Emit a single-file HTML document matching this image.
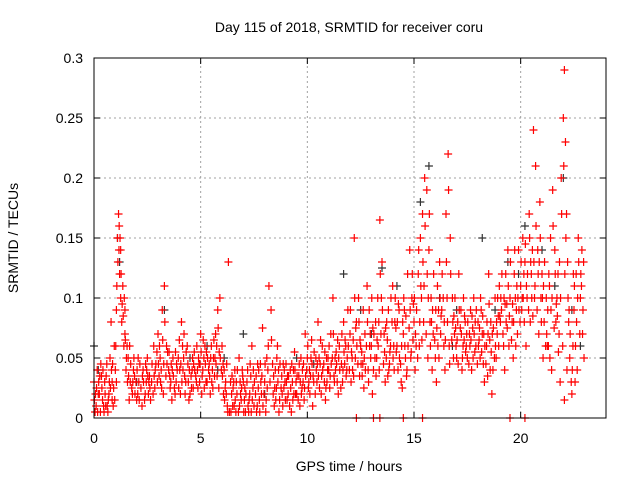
<!DOCTYPE html>
<html><head><meta charset="utf-8"><style>
body{margin:0;background:#fff;}
svg{display:block;font-family:"Liberation Sans",sans-serif;}
</style></head><body>
<svg id="chart" width="640" height="480">
<text x="349" y="32" font-size="14" text-anchor="middle">Day 115 of 2018, SRMTID for receiver coru</text>
<text x="349" y="471" font-size="14" text-anchor="middle">GPS time / hours</text>
<text transform="translate(18,238) rotate(-90)" font-size="14" text-anchor="middle">SRMTID / TECUs</text>
<g id="grid"></g><g id="marks"></g><g id="axes"></g>
</svg>
<script>
const xTicks=[0,5,10,15,20];
const yTicks=[0,0.05,0.1,0.15,0.2,0.25,0.3];
const yTickLabels=["0","0.05","0.1","0.15","0.2","0.25","0.3"];
const redPoints=[[0,0.03],[0.1,0.01],[0.15,0.04],[0.2,0.02],[0.3,0.005],[0.35,0.035],[0.4,0.015],[0.5,0.03],[0.55,0.01],[0.6,0.045],[0.7,0.02],[0.75,0.05],[0.8,0.08],[0.85,0.03],[0.9,0.01],[0.95,0.06],[1,0.04],[1.05,0.09],[1.1,0.15],[1.15,0.17],[1.2,0.12],[1.25,0.1],[1.3,0.08],[1.35,0.11],[1.4,0.06],[1.45,0.07],[1.5,0.04],[1.6,0.05],[1.7,0.03],[1.8,0.02],[1.9,0.035],[2,0.015],[2.1,0.03],[2.2,0.025],[2.3,0.04],[2.4,0.02],[2.5,0.05],[2.6,0.035],[2.7,0.03],[2.8,0.06],[2.9,0.045],[3,0.07],[3.1,0.05],[3.2,0.09],[3.3,0.11],[3.4,0.06],[3.5,0.04],[3.6,0.03],[3.7,0.05],[3.8,0.02],[3.9,0.04],[4,0.065],[4.1,0.08],[4.2,0.05],[4.3,0.03],[4.4,0.045],[4.5,0.02],[4.6,0.04],[4.7,0.055],[4.8,0.03],[4.9,0.05],[5,0.07],[5.1,0.04],[5.2,0.06],[5.3,0.03],[5.4,0.045],[5.5,0.06],[5.6,0.05],[5.7,0.07],[5.8,0.09],[5.9,0.1],[6,0.06],[6.1,0.04],[6.2,0.02],[6.3,0.13],[6.35,0.005],[6.4,0.03],[6.5,0.01],[6.6,0.04],[6.7,0.02],[6.8,0.05],[6.9,0.015],[7,0.03],[7.1,0.005],[7.2,0.04],[7.3,0.02],[7.4,0.06],[7.5,0.01],[7.6,0.035],[7.7,0.025],[7.8,0.045],[7.9,0.075],[8,0.03],[8.1,0.05],[8.2,0.11],[8.3,0.09],[8.4,0.02],[8.5,0.04],[8.6,0.06],[8.7,0.015],[8.8,0.035],[8.9,0.025],[9,0.045],[9.1,0.02],[9.2,0.04],[9.3,0.03],[9.4,0.055],[9.5,0.02],[9.6,0.035],[9.7,0.05],[9.8,0.03],[9.9,0.07],[10,0.05],[10.1,0.04],[10.2,0.065],[10.3,0.03],[10.4,0.05],[10.5,0.08],[10.6,0.045],[10.7,0.06],[10.8,0.03],[10.9,0.05],[11,0.04],[11.1,0.07],[11.2,0.1],[11.3,0.05],[11.4,0.03],[11.5,0.06],[11.6,0.045],[11.7,0.08],[11.8,0.06],[11.9,0.09],[12,0.07],[12.1,0.05],[12.2,0.15],[12.3,0.08],[12.4,0.1],[12.5,0.06],[12.6,0.045],[12.7,0.07],[12.8,0.11],[12.9,0.09],[13,0.06],[13.1,0.04],[13.2,0.08],[13.3,0.1],[13.4,0.165],[13.5,0.13],[13.6,0.07],[13.7,0.05],[13.8,0.09],[13.9,0.06],[14,0.11],[14.1,0.08],[14.2,0.06],[14.3,0.09],[14.4,0.03],[14.5,0.07],[14.6,0.05],[14.7,0.12],[14.8,0.14],[14.9,0.1],[15,0.08],[15.1,0.06],[15.2,0.12],[15.3,0.15],[15.4,0.17],[15.5,0.2],[15.6,0.19],[15.7,0.14],[15.8,0.1],[15.9,0.07],[16,0.05],[16.1,0.11],[16.2,0.13],[16.3,0.09],[16.4,0.06],[16.5,0.17],[16.6,0.22],[16.7,0.15],[16.8,0.1],[16.9,0.07],[17,0.05],[17.1,0.12],[17.2,0.09],[17.3,0.06],[17.4,0.08],[17.5,0.05],[17.6,0.07],[17.7,0.04],[17.8,0.1],[17.9,0.06],[18,0.08],[18.1,0.05],[18.2,0.07],[18.3,0.03],[18.4,0.06],[18.5,0.12],[18.6,0.08],[18.7,0.04],[18.8,0.1],[18.9,0.07],[19,0.11],[19.1,0.09],[19.2,0.06],[19.3,0.12],[19.4,0.14],[19.5,0.1],[19.6,0.08],[19.7,0.12],[19.8,0.09],[19.9,0.14],[20,0.11],[20.1,0.15],[20.2,0.13],[20.3,0.1],[20.4,0.17],[20.5,0.12],[20.6,0.24],[20.7,0.21],[20.8,0.14],[20.9,0.18],[21,0.12],[21.1,0.08],[21.2,0.1],[21.3,0.06],[21.4,0.15],[21.5,0.19],[21.6,0.14],[21.7,0.1],[21.8,0.07],[21.9,0.2],[22,0.25],[22.05,0.29],[22.1,0.23],[22.2,0.13],[22.3,0.05],[22.4,0.02],[22.5,0.09],[22.6,0.12],[22.7,0.15],[22.8,0.1],[22.9,0.07],[12.3,0],[13.1,0],[13.4,0],[14.5,0],[15.4,0],[19.5,0],[20.2,0]];
const redLowPoints=[[0.05,0.005],[0.25,0.02],[0.45,0.01],[0.65,0.005],[0.85,0.015],[1.05,0.03],[1.25,0.14],[1.45,0.09],[1.65,0.015],[1.85,0.04],[2.05,0.02],[2.25,0.01],[2.45,0.03],[2.65,0.015],[2.85,0.025],[3.05,0.035],[3.25,0.02],[3.45,0.055],[3.65,0.015],[3.85,0.03],[4.05,0.02],[4.25,0.035],[4.45,0.015],[4.65,0.025],[4.85,0.04],[5.05,0.02],[5.25,0.03],[5.45,0.02],[5.65,0.035],[5.85,0.025],[6.05,0.045],[6.25,0.01],[6.45,0.02],[6.65,0.005],[6.85,0.03],[7.05,0.015],[7.25,0.005],[7.45,0.025],[7.65,0.01],[7.85,0.02],[8.05,0.005],[8.25,0.03],[8.45,0.01],[8.65,0.04],[8.85,0.01],[9.05,0.015],[9.25,0.005],[9.45,0.02],[9.65,0.01],[9.85,0.015],[10.05,0.025],[10.25,0.01],[10.45,0.03],[10.65,0.02],[10.85,0.015],[11.05,0.025],[11.25,0.035],[11.45,0.02],[11.65,0.03],[11.85,0.04],[12.05,0.03],[12.25,0.05],[12.45,0.035],[12.65,0.025],[12.85,0.04],[13.05,0.02],[13.25,0.05],[13.45,0.07],[13.65,0.03],[13.85,0.045],[14.05,0.06],[14.25,0.04],[14.45,0.025],[14.65,0.035],[14.85,0.05],[15.05,0.04],[15.25,0.06],[15.45,0.08],[15.65,0.05],[15.85,0.04],[16.05,0.03],[16.25,0.07],[16.45,0.04],[16.65,0.06],[16.85,0.05],[17.05,0.08],[17.25,0.04],[17.45,0.06],[17.65,0.09],[17.85,0.055],[18.05,0.065],[18.25,0.045],[18.45,0.035],[18.65,0.02],[18.85,0.05],[19.05,0.08],[19.25,0.04],[19.45,0.06],[19.65,0.05],[19.85,0.07],[20.05,0.09],[20.25,0.06],[20.45,0.08],[20.65,0.1],[20.85,0.07],[21.05,0.05],[21.25,0.06],[21.45,0.04],[21.65,0.08],[21.85,0.03],[22.05,0.015],[22.25,0.08],[22.45,0.06],[22.65,0.04],[22.85,0.11]];
const redMidPoints=[[0.12,0.025],[0.42,0.04],[0.72,0.03],[1.18,0.16],[1.32,0.095],[1.55,0.06],[2.15,0.045],[2.55,0.02],[2.95,0.055],[3.15,0.04],[3.55,0.035],[3.95,0.05],[4.15,0.06],[4.55,0.035],[4.95,0.03],[5.15,0.05],[5.55,0.04],[5.75,0.06],[6.15,0.025],[6.55,0.03],[6.95,0.04],[7.35,0.035],[7.75,0.015],[8.15,0.04],[8.55,0.025],[8.95,0.03],[9.35,0.04],[9.75,0.025],[10.15,0.035],[10.55,0.05],[10.95,0.04],[11.35,0.055],[11.75,0.045],[12.15,0.065],[12.55,0.055],[12.95,0.07],[13.35,0.08],[13.75,0.065],[14.15,0.075],[14.55,0.09],[14.95,0.065],[15.35,0.1],[15.75,0.08],[16.15,0.09],[16.55,0.1],[16.95,0.075],[17.35,0.065],[17.75,0.075],[18.15,0.09],[18.55,0.065],[18.95,0.085],[19.35,0.095],[19.75,0.1],[20.15,0.12],[20.55,0.14],[20.95,0.1],[21.35,0.11],[21.75,0.12],[22.15,0.17],[22.55,0.03],[22.95,0.13]];
const redExtraA=[[0.02,0.015],[0.22,0.03],[0.32,0.045],[0.52,0.02],[0.62,0.01],[0.82,0.04],[0.92,0.025],[1.02,0.06],[1.12,0.13],[1.22,0.15],[1.42,0.1],[1.52,0.05],[1.62,0.035],[1.72,0.045],[1.82,0.03],[1.92,0.02],[2.02,0.04],[2.12,0.015],[2.32,0.03],[2.42,0.045],[2.52,0.035],[2.62,0.025],[2.72,0.045],[2.82,0.035],[3.02,0.045],[3.12,0.03],[3.22,0.065],[3.32,0.08],[3.42,0.045],[3.52,0.055],[3.62,0.045],[3.72,0.035],[3.82,0.055],[4.02,0.04],[4.12,0.03],[4.22,0.07],[4.32,0.055],[4.42,0.03],[4.62,0.05],[4.72,0.04],[4.82,0.06],[4.92,0.045],[5.02,0.055],[5.12,0.065],[5.22,0.045],[5.32,0.05],[5.42,0.035],[5.52,0.03],[5.62,0.065],[5.72,0.045],[5.82,0.075],[5.92,0.05],[6.02,0.035],[6.12,0.015],[6.22,0.045],[6.42,0.005],[6.52,0.025],[6.62,0.015],[6.72,0.04],[6.82,0.01],[6.92,0.025],[7.02,0.005],[7.12,0.02],[7.22,0.01],[7.32,0.045],[7.42,0.015],[7.52,0.03],[7.62,0.005],[7.72,0.04],[7.82,0.03],[7.92,0.01],[8.02,0.045],[8.12,0.025],[8.32,0.065],[8.42,0.035],[8.52,0.015],[8.62,0.03],[8.72,0.045],[8.82,0.02],[8.92,0.04],[9.02,0.03],[9.12,0.035],[9.22,0.025],[9.32,0.015],[9.42,0.04],[9.52,0.035],[9.62,0.045],[9.72,0.02],[9.82,0.045],[9.92,0.035],[10.02,0.06],[10.12,0.02],[10.22,0.045],[10.32,0.055],[10.42,0.04],[10.52,0.035],[10.62,0.065],[10.72,0.04],[10.82,0.055],[10.92,0.03],[11.02,0.06],[11.12,0.045],[11.22,0.07],[11.32,0.04],[11.42,0.065],[11.52,0.04],[11.62,0.07],[11.72,0.055],[11.82,0.035],[11.92,0.06],[12.02,0.09],[12.12,0.04],[12.22,0.1],[12.32,0.06],[12.42,0.08],[12.52,0.045],[12.62,0.09],[12.72,0.04],[12.82,0.08],[12.92,0.06],[13.02,0.1],[13.12,0.07],[13.22,0.035],[13.32,0.06],[13.42,0.12],[13.52,0.09],[13.62,0.055],[13.72,0.08],[13.82,0.04],[13.92,0.1],[14.02,0.05],[14.12,0.1],[14.22,0.08],[14.32,0.05],[14.42,0.06],[14.52,0.1],[14.62,0.085],[14.72,0.06],[14.82,0.09],[14.92,0.12],[15.02,0.1],[15.12,0.09],[15.22,0.14],[15.32,0.11],[15.42,0.13],[15.52,0.16],[15.62,0.12],[15.72,0.17],[15.82,0.08],[15.92,0.12],[16.02,0.09],[16.12,0.06],[16.22,0.1],[16.32,0.12],[16.42,0.08],[16.52,0.13],[16.62,0.19],[16.72,0.12],[16.82,0.08],[16.92,0.1],[17.02,0.065],[17.12,0.09],[17.22,0.07],[17.32,0.1],[17.42,0.055],[17.52,0.08],[17.62,0.06],[17.72,0.085],[17.82,0.07],[17.92,0.09],[18.02,0.06],[18.12,0.1],[18.22,0.085],[18.32,0.06],[18.42,0.08],[18.52,0.095],[18.62,0.055],[18.72,0.075],[18.82,0.06],[18.92,0.1],[19.02,0.085],[19.12,0.12],[19.22,0.1],[19.32,0.08],[19.42,0.11],[19.52,0.13],[19.62,0.095],[19.72,0.14],[19.82,0.11],[19.92,0.09],[20.02,0.13],[20.12,0.1],[20.22,0.145],[20.32,0.12],[20.42,0.15],[20.52,0.1],[20.62,0.13],[20.72,0.16],[20.82,0.12],[20.92,0.15],[21.02,0.1],[21.12,0.13],[21.22,0.07],[21.32,0.12],[21.42,0.09],[21.52,0.16],[21.62,0.12],[21.72,0.085],[21.82,0.13],[21.92,0.17],[22.02,0.21],[22.12,0.15],[22.22,0.1],[22.32,0.07],[22.42,0.04],[22.52,0.11],[22.62,0.08],[22.72,0.13],[22.82,0.12],[22.92,0.09]];
const redExtraB=[[0.07,0.02],[0.17,0.005],[0.27,0.035],[0.37,0.025],[0.47,0.005],[0.57,0.035],[0.67,0.015],[0.77,0.025],[0.87,0.045],[0.97,0.015],[1.07,0.11],[1.17,0.14],[1.27,0.12],[1.37,0.085],[1.47,0.065],[1.57,0.03],[1.67,0.06],[1.77,0.025],[1.87,0.05],[1.97,0.03],[2.07,0.05],[2.27,0.035],[2.37,0.015],[2.47,0.04],[2.57,0.03],[2.77,0.02],[2.87,0.04],[2.97,0.03],[3.07,0.06],[3.17,0.025],[3.27,0.045],[3.37,0.035],[3.57,0.025],[3.67,0.04],[3.77,0.025],[3.87,0.045],[3.97,0.025],[4.07,0.045],[4.17,0.04],[4.27,0.02],[4.37,0.06],[4.47,0.04],[4.57,0.025],[4.67,0.045],[4.77,0.035],[4.87,0.025],[4.97,0.045],[5.07,0.035],[5.17,0.025],[5.27,0.055],[5.37,0.04],[5.47,0.05],[5.57,0.025],[5.67,0.05],[5.77,0.035],[5.87,0.055],[5.97,0.04],[6.07,0.02],[6.17,0.03],[6.27,0.005],[6.47,0.035],[6.57,0.01],[6.67,0.03],[6.77,0.005],[6.87,0.02],[6.97,0.035],[7.07,0.025],[7.17,0.03],[7.27,0.015],[7.37,0.005],[7.47,0.04],[7.57,0.02],[7.67,0.045],[7.77,0.005],[7.87,0.035],[7.97,0.02],[8.07,0.015],[8.17,0.06],[8.37,0.045],[8.47,0.025],[8.57,0.05],[8.67,0.005],[8.77,0.025],[8.87,0.045],[8.97,0.015],[9.07,0.035],[9.17,0.01],[9.27,0.045],[9.37,0.02],[9.47,0.03],[9.57,0.015],[9.67,0.03],[9.77,0.04],[9.87,0.025],[9.97,0.04],[10.07,0.03],[10.17,0.05],[10.27,0.035],[10.37,0.02],[10.47,0.045],[10.57,0.025],[10.67,0.035],[10.77,0.045],[10.87,0.025],[10.97,0.05],[11.07,0.035],[11.17,0.05],[11.27,0.03],[11.37,0.045],[11.47,0.05],[11.57,0.025],[11.67,0.04],[11.77,0.065],[11.87,0.05],[11.97,0.04],[12.07,0.055],[12.17,0.035],[12.27,0.075],[12.37,0.045],[12.47,0.065],[12.57,0.035],[12.67,0.05],[12.77,0.06],[12.87,0.03],[12.97,0.05],[13.07,0.075],[13.17,0.05],[13.27,0.065],[13.37,0.04],[13.47,0.1],[13.57,0.045],[13.67,0.075],[13.77,0.035],[13.87,0.055],[13.97,0.08],[14.07,0.04],[14.17,0.055],[14.27,0.095],[14.37,0.045],[14.47,0.08],[14.57,0.06],[14.67,0.04],[14.77,0.075],[14.87,0.055],[14.97,0.095],[15.07,0.07],[15.17,0.05],[15.27,0.08],[15.37,0.065],[15.47,0.11],[15.57,0.07],[15.67,0.1],[15.77,0.06],[15.87,0.09],[15.97,0.065],[16.07,0.075],[16.17,0.05],[16.27,0.085],[16.37,0.1],[16.47,0.065],[16.57,0.08],[16.67,0.045],[16.77,0.065],[16.87,0.085],[16.97,0.06],[17.07,0.045],[17.17,0.075],[17.27,0.05],[17.37,0.085],[17.47,0.07],[17.57,0.045],[17.67,0.065],[17.77,0.05],[17.87,0.08],[17.97,0.045],[18.07,0.075],[18.17,0.055],[18.27,0.07],[18.37,0.045],[18.47,0.07],[18.57,0.04],[18.67,0.07],[18.77,0.05],[18.87,0.08],[18.97,0.06],[19.07,0.1],[19.17,0.07],[19.27,0.095],[19.37,0.075],[19.47,0.085],[19.57,0.065],[19.67,0.08],[19.77,0.06],[19.87,0.1],[19.97,0.08],[20.07,0.1],[20.17,0.08],[20.27,0.11],[20.37,0.09],[20.47,0.13],[20.57,0.085],[20.67,0.11],[20.77,0.09],[20.87,0.13],[20.97,0.08],[21.07,0.11],[21.17,0.06],[21.27,0.09],[21.37,0.05],[21.47,0.1],[21.57,0.075],[21.67,0.095],[21.77,0.055],[21.87,0.1],[21.97,0.06],[22.07,0.12],[22.17,0.04],[22.27,0.09],[22.37,0.03],[22.47,0.12],[22.57,0.06],[22.67,0.1],[22.77,0.07],[22.87,0.14],[22.97,0.05]];
const blackPoints=[[0,0.06],[0.2,0.04],[1.1,0.15],[1.2,0.13],[3.3,0.09],[4.5,0.05],[5.3,0.06],[6.1,0.05],[7,0.07],[8,0.02],[9.5,0.05],[10.3,0.045],[11.7,0.12],[12.5,0.09],[13.5,0.125],[14.2,0.11],[15.3,0.18],[15.7,0.21],[16.2,0.1],[17,0.09],[18.2,0.15],[18.8,0.09],[19.9,0.12],[20.2,0.16],[21,0.14],[21.6,0.11],[22,0.2],[22.4,0.09],[22.8,0.06],[2,0.03],[5.8,0.04],[13,0.07],[16.8,0.06],[19.4,0.13]];

const X0=94,X1=606,Y0=418,Y1=58,XMAX=24,YMAX=0.3;
const xs=t=>X0+(X1-X0)*t/XMAX;
const ys=v=>Y0-(Y0-Y1)*v/YMAX;
const NS="http://www.w3.org/2000/svg";
function mk(tag,attrs,parent){const e=document.createElementNS(NS,tag);for(const k in attrs)e.setAttribute(k,attrs[k]);parent.appendChild(e);return e;}
const grid=document.getElementById('grid'),marks=document.getElementById('marks'),axes=document.getElementById('axes');
xTicks.forEach(t=>{
  if(t>0){const g=mk('line',{x1:xs(t),x2:xs(t),y1:Y0,y2:Y1,stroke:'#a0a0a0','stroke-dasharray':'2,3'},grid);
  
  }
  mk('line',{x1:xs(t),x2:xs(t),y1:Y0,y2:Y0-6,stroke:'#000'},axes);
  mk('line',{x1:xs(t),x2:xs(t),y1:Y1,y2:Y1+6,stroke:'#000'},axes);
  const l=mk('text',{x:xs(t),y:Y0+25,'font-size':14,'text-anchor':'middle'},axes);l.textContent=t;
  
  
});
yTicks.forEach((v,i)=>{
  if(v>0&&v<YMAX){const g=mk('line',{x1:X0,x2:X1,y1:ys(v),y2:ys(v),stroke:'#a0a0a0','stroke-dasharray':'2,3'},grid);
  
  }
  mk('line',{x1:X0,x2:X0+6,y1:ys(v),y2:ys(v),stroke:'#000'},axes);
  mk('line',{x1:X1,x2:X1-6,y1:ys(v),y2:ys(v),stroke:'#000'},axes);
  const l=mk('text',{x:X0-11,y:ys(v)+5,'font-size':14,'text-anchor':'end'},axes);l.textContent=yTickLabels[i];
  
  
});
const frame=mk('rect',{x:X0,y:Y1,width:X1-X0,height:Y0-Y1,fill:'none',stroke:'#000'},axes);


function plus(p,color){
  const x=xs(p[0]),y=ys(p[1]);
  const m=mk('path',{d:`M${x-4},${y}H${x+4}M${x},${y-4}V${y+4}`,stroke:color,'stroke-width':1.2,fill:'none'},marks);
  
  
}
blackPoints.forEach(p=>plus(p,'#333'));
redLowPoints.forEach(p=>plus(p,'#ff0000'));
redMidPoints.forEach(p=>plus(p,'#ff0000'));
redExtraA.forEach(p=>plus(p,'#ff0000'));
redExtraB.forEach(p=>plus(p,'#ff0000'));
redPoints.forEach(p=>plus(p,'#ff0000'));
</script>
</body></html>
